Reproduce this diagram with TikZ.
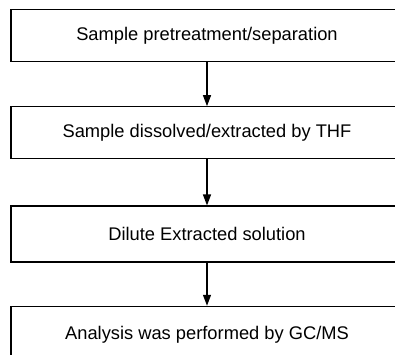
\documentclass[tikz,border=0pt]{standalone}
\usepackage{fontspec}
\setmainfont{Liberation Sans}
\usetikzlibrary{arrows.meta, positioning}

\begin{document}
\begin{tikzpicture}[x=1pt, y=1pt,
  stepbox/.style={draw, line width=1.3pt, minimum width=392pt, minimum height=52pt,
    inner sep=0pt, font=\fontsize{18.3}{22}\selectfont},
  flow/.style={-{Triangle[width=8pt,length=11pt]}, line width=1.2pt}]
  \useasboundingbox (0,0) rectangle (395,-354);
  \node[stepbox] (pretreat) at (207,-35.5) {Sample pretreatment/separation};
  \node[stepbox, below=44pt of pretreat] (dissolve) {Sample dissolved/extracted by THF};
  \node[stepbox, below=46pt of dissolve, minimum height=56pt] (dilute) {Dilute Extracted solution};
  \node[stepbox, below=43pt of dilute, minimum height=56pt] (analysis) {Analysis was performed by GC/MS};
  \draw[flow] (pretreat) -- (dissolve);
  \draw[flow] (dissolve) -- (dilute);
  \draw[flow] (dilute) -- (analysis);
\end{tikzpicture}
\end{document}
